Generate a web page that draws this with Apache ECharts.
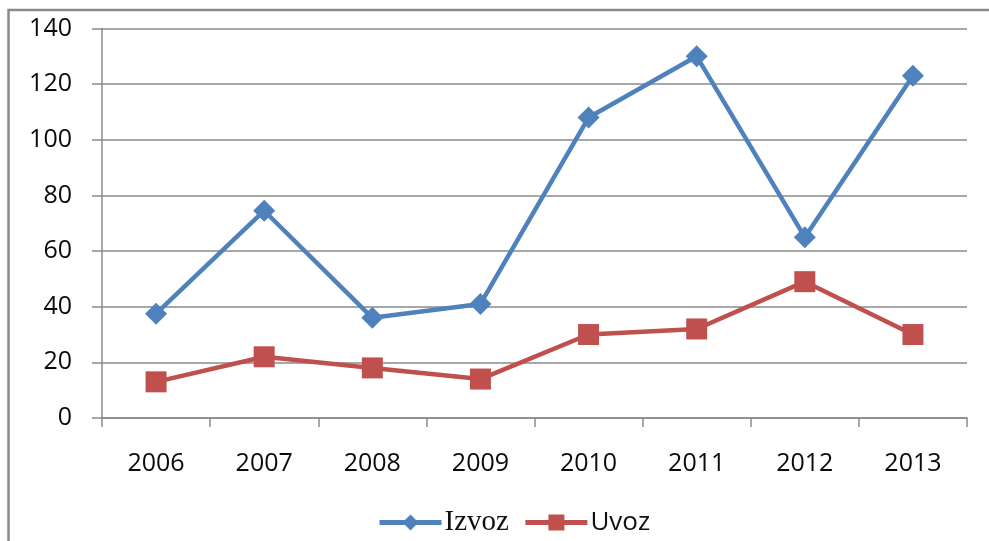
<!DOCTYPE html>
<html><head><meta charset="utf-8">
<script src="https://cdn.jsdelivr.net/npm/echarts@6/dist/echarts.min.js"></script>
<style>html,body{margin:0;padding:0;background:#fff}#c{width:989px;height:541px}</style>
</head><body><div id="c"></div>
<script>
const years = ['2006','2007','2008','2009','2010','2011','2012','2013'];
const izvoz = [37.5, 74.5, 36, 41, 108, 130, 65, 123];
const uvoz = [13, 22, 18, 14, 30, 32, 49, 30];
const yTicks = [0, 20, 40, 60, 80, 100, 120, 140];

const chart = echarts.init(document.getElementById('c'));
const labelFont = {fontFamily: 'Open Sans', fontSize: 25, color: '#0a0a0a'};
chart.setOption({
  animation: false,
  graphic: [{type: 'rect', shape: {x: 8.5, y: 10, width: 1000, height: 600}, style: {fill: 'none', stroke: '#8a8a8a', lineWidth: 2.5}}],
  grid: {left: 102, right: 22, top: 28.5, bottom: 123},
  legend: {
    top: 503, left: 372, itemWidth: 62, itemHeight: 20, itemGap: 14,
    lineStyle: {width: 5},
    formatter: function (n) { return n === 'Izvoz' ? '{s|' + n + '}' : '{n|' + n + '}'; },
    textStyle: {
      color: '#111', padding: [0,0,0,-2],
      rich: {
        s: {fontFamily: 'Liberation Serif', fontSize: 29, color: '#111'},
        n: {fontFamily: 'Open Sans', fontSize: 26, color: '#111'}
      }
    },
    data: ['Izvoz', 'Uvoz']
  },
  xAxis: {
    type: 'category', data: years, boundaryGap: true,
    axisLine: {lineStyle: {color: '#8a8a8a', width: 1.5}},
    axisTick: {show: true, length: 9, lineStyle: {color: '#8a8a8a', width: 1.5}},
    axisLabel: Object.assign({margin: 33}, labelFont)
  },
  yAxis: {
    type: 'value', min: yTicks[0], max: yTicks[yTicks.length-1], interval: 20,
    axisLine: {show: true, lineStyle: {color: '#8a8a8a', width: 1.5}},
    axisTick: {show: true, length: 10, inside: false, lineStyle: {color: '#8a8a8a', width: 1.5}},
    splitLine: {lineStyle: {color: '#8a8a8a', width: 1.5}},
    axisLabel: Object.assign({margin: 30}, labelFont)
  },
  series: [
    {name: 'Izvoz', type: 'line', data: izvoz, symbol: 'diamond', symbolSize: 22,
     lineStyle: {color: '#4F81BD', width: 4.5}, itemStyle: {color: '#4F81BD'}},
    {name: 'Uvoz', type: 'line', data: uvoz, symbol: 'rect', symbolSize: 21,
     lineStyle: {color: '#C0504D', width: 4.5}, itemStyle: {color: '#C0504D'}}
  ]
});
</script></body></html>
